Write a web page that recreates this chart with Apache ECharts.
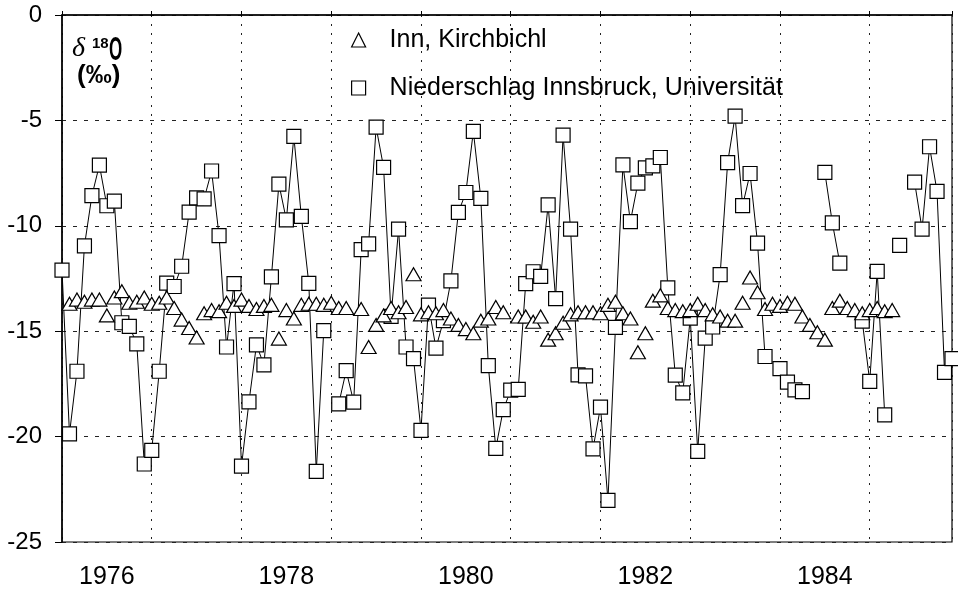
<!DOCTYPE html>
<html>
<head>
<meta charset="utf-8">
<script src="https://cdn.jsdelivr.net/npm/echarts@6/dist/echarts.min.js"></script>
<style>
html,body{margin:0;padding:0;background:#fff;}
#c{width:958px;height:594px;}
</style>
</head>
<body>
<div id="c"></div>
<script>
// ---- data (monthly values, first entry = January 1976) ----
const startYear = 1976;
const seriesNames = ['Inn, Kirchbichl', 'Niederschlag Innsbruck, Universität'];
const innValues = [
  null,-13.7,-13.5,-13.6,-13.5,-13.5,-14.25,-13.4,-13.1,-13.65,-13.6,-13.4,
  -13.7,-13.65,-13.4,-13.9,-14.45,-14.85,-15.3,-14.15,-14.0,-14.05,-13.65,-13.8,
  -13.5,-13.8,-13.95,-13.8,-13.75,-15.35,-14.0,-14.4,-13.75,-13.7,-13.7,-13.75,
  -13.65,-13.9,-13.9,null,-13.95,-15.75,-14.7,-14.25,-13.9,-14.1,-13.85,-12.3,
  -14.2,-14.1,-14.15,-14.0,-14.4,-14.7,-14.9,-15.1,-14.5,-14.4,-13.85,-14.1,
  null,-14.3,-14.3,-14.55,-14.3,-15.4,-15.1,-14.6,-14.2,-14.1,-14.1,-14.1,
  -14.15,-13.75,-13.6,-14.15,-14.4,-16.0,-15.1,-13.55,-13.3,-13.9,-14.0,-14.05,
  -14.0,-13.7,-14.0,-14.2,-14.3,-14.5,-14.5,-13.65,-12.45,-13.15,-13.95,-13.7,
  -13.8,-13.65,-13.7,-14.3,-14.7,-15.05,-15.4,-13.9,-13.55,-13.9,-14.0,-14.15,
  -14.0,-13.9,-14.05,-14.0,null,null,null,null,null,null,null,null
];
const precipValues = [
  -12.1,-19.87,-16.9,-10.95,-8.57,-7.12,-9.05,-8.83,-14.6,-14.77,-15.6,-21.3,
  -20.65,-16.9,-12.72,-12.88,-11.92,-9.35,-8.68,-8.72,-7.4,-10.47,-15.75,-12.74,
  -21.4,-18.35,-15.65,-16.6,-12.42,-8.02,-9.72,-5.76,-9.55,-12.73,-21.65,-14.97,
  null,-18.45,-16.87,-18.36,-11.13,-10.86,-5.32,-7.23,-14.3,-10.16,-15.75,-16.3,
  -19.7,-13.76,-15.8,-14.5,-12.61,-9.36,-8.42,-5.52,-8.7,-16.63,-20.56,-18.72,
  -17.8,-17.76,-12.74,-12.18,-12.4,-9.01,-13.45,-5.7,-10.16,-17.07,-17.12,-20.58,
  -18.6,-23.03,-14.82,-7.11,-9.8,-7.98,-7.25,-7.16,-6.76,-12.94,-17.08,-17.93,
  -14.38,-20.7,-15.33,-14.8,-12.32,-7.0,-4.8,-9.04,-7.52,-10.82,-16.2,null,
  -16.78,-17.42,-17.78,-17.87,null,null,-7.47,-9.86,-11.77,null,null,-14.52,
  -17.38,-12.16,-18.97,null,-10.93,null,-7.93,-10.16,-6.25,-8.37,-16.95,-16.3
];
const xLabelYears = [1976, 1978, 1980, 1982, 1984];
const yTickValues = [-25, -20, -15, -10, -5, 0];

// ---- build ----
const FONT = "'Liberation Sans', Arial, Helvetica, sans-serif";
const xMin = startYear;
const xMax = startYear + (precipValues.length - 1) / 12;
const innData = [];
innValues.forEach((v, i) => { if (v !== null) innData.push([startYear + i / 12, v]); });
const precipData = precipValues.map((v, i) => [startYear + i / 12, v === null ? '-' : v]);

const chart = echarts.init(document.getElementById('c'), null, {renderer: 'canvas', width: 958, height: 594});
const option = {
  animation: false,
  backgroundColor: '#fff',
  textStyle: {fontFamily: FONT},
  grid: {left: 62, right: 6, top: 15, bottom: 52, show: true, borderColor: '#000', borderWidth: 1.2},
  legend: {
    orient: 'vertical', left: 346, top: 21, itemWidth: 14, itemHeight: 14, itemGap: 20,
    textStyle: {fontSize: 25, color: '#000', fontFamily: FONT, padding: [0, 0, 0, 19], lineHeight: 28},
    data: [
      {name: seriesNames[0], icon: 'triangle', itemStyle: {color: '#fff', borderColor: '#000', borderWidth: 1.2}},
      {name: seriesNames[1], icon: 'rect', itemStyle: {color: '#fff', borderColor: '#000', borderWidth: 1.2}}
    ]
  },
  xAxis: [
    {
      type: 'value', min: xMin, max: xMax, interval: 1,
      axisLine: {show: true, lineStyle: {color: '#000', width: 1.5}},
      axisTick: {show: true, inside: true, length: 4, lineStyle: {color: '#000'}},
      axisLabel: {show: false},
      splitLine: {show: true, lineStyle: {color: '#222', type: [2, 7], width: 1}}
    },
    {
      type: 'value', min: xMin, max: xMax, interval: 0.5, position: 'bottom',
      axisLine: {show: false}, axisTick: {show: false}, splitLine: {show: false},
      axisLabel: {
        show: true, fontSize: 25, color: '#000', fontFamily: FONT, margin: 23,
        showMinLabel: true, showMaxLabel: false,
        formatter: function (v) {
          const y = v - 0.5;
          return xLabelYears.indexOf(Math.round(y)) >= 0 && Math.abs(y - Math.round(y)) < 1e-6 ? String(Math.round(y)) : '';
        }
      }
    }
  ],
  yAxis: {
    type: 'value', min: yTickValues[0], max: yTickValues[yTickValues.length - 1], interval: 5,
    axisLine: {show: true, lineStyle: {color: '#000', width: 1.5}},
    axisTick: {show: true, length: 7, lineStyle: {color: '#000'}},
    axisLabel: {fontSize: 24, color: '#000', fontFamily: FONT, margin: 20},
    splitLine: {show: true, lineStyle: {color: '#222', type: [4, 7], width: 1}}
  },
  graphic: [
    {type: 'text', left: 72, top: 35, z: 100, style: {text: 'δ', font: "italic 28px 'Liberation Serif', serif", fill: '#000'}},
    {type: 'text', left: 92, top: 36, z: 100, style: {text: '18', font: "bold 15px 'Liberation Sans', Arial, sans-serif", fill: '#000'}},
    {type: 'text', x: 109, y: 34, scaleX: 0.5, z: 100, style: {text: 'O', font: "bold 34px 'Liberation Sans', Arial, sans-serif", fill: '#000'}},
    {type: 'text', left: 77, top: 63, z: 100, style: {text: '(‰)', font: "bold 26px 'Liberation Sans', Arial, sans-serif", fill: '#000'}}
  ],
  series: [
    {
      name: seriesNames[1], type: 'line', xAxisIndex: 0, data: precipData,
      connectNulls: false, showAllSymbol: true, symbol: 'rect', symbolSize: 14,
      lineStyle: {color: '#000', width: 1},
      itemStyle: {color: '#fff', borderColor: '#000', borderWidth: 1.2},
      z: 2
    },
    {
      name: seriesNames[0], type: 'scatter', xAxisIndex: 0, data: innData,
      symbol: 'triangle', symbolSize: [15, 13],
      itemStyle: {color: '#fff', borderColor: '#000', borderWidth: 1.2, opacity: 1},
      z: 3
    }
  ]
};
chart.setOption(option);
</script>
</body>
</html>
